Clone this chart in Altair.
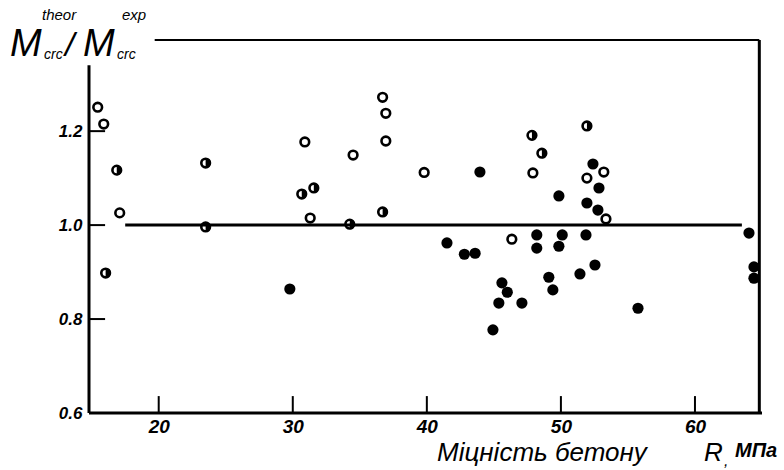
import altair as alt
import pandas as pd

# ---- data ----
open_x = [15.45, 15.9, 17.09, 30.9, 34.5, 36.7, 36.94, 36.94, 31.3, 39.8, 46.34, 47.91, 51.94, 53.2, 53.36]
open_y = [1.251, 1.215, 1.026, 1.177, 1.149, 1.272, 1.238, 1.179, 1.015, 1.112, 0.970, 1.111, 1.100, 1.113, 1.013]

half_x = [16.87, 16.04, 23.5, 23.5, 30.67, 31.57, 34.25, 36.7, 47.84, 48.58, 51.94]
half_y = [1.117, 0.898, 1.132, 0.996, 1.066, 1.079, 1.002, 1.028, 1.191, 1.153, 1.211]

filled_x = [29.78, 41.5, 42.8, 43.6, 43.96, 45.6, 46.0, 45.37, 47.09, 44.93, 52.39, 52.84, 49.85, 51.94,
            52.76, 48.2, 48.2, 50.1, 49.85, 51.87, 52.54, 51.42, 49.1, 49.4, 55.75, 64.03, 64.4, 64.4]
filled_y = [0.864, 0.962, 0.938, 0.940, 1.113, 0.877, 0.857, 0.834, 0.834, 0.777, 1.130, 1.079, 1.062, 1.047,
            1.032, 0.979, 0.951, 0.979, 0.955, 0.979, 0.915, 0.896, 0.889, 0.862, 0.823, 0.983, 0.911, 0.887]

x_ticks = [20, 30, 40, 50, 60]
y_ticks = [0.6, 0.8, 1.0, 1.2]
x_domain = [14.8, 65.0]
y_domain = [0.6, 1.394]
ref_value = 1.0
ref_from, ref_to = 17.5, 63.5

# ---- frames ----
open_df = pd.DataFrame({"x": open_x, "y": open_y})
half_df = pd.DataFrame({"x": half_x, "y": half_y})
filled_df = pd.DataFrame({"x": filled_x, "y": filled_y})

xs = alt.Scale(domain=x_domain, nice=False, zero=False)
ys = alt.Scale(domain=y_domain, nice=False, zero=False)

frame_df = pd.DataFrame({
    "x":  [x_domain[0], x_domain[0], 19.7, 64.8, ref_from],
    "x2": [x_domain[1], x_domain[0], 64.8, 64.8, ref_to],
    "y":  [0.6, 0.6, y_domain[1], 0.6, ref_value],
    "y2": [0.6, 1.34, y_domain[1], y_domain[1], ref_value],
    "w":  [3, 3, 2, 3, 3],
})
xtick_df = pd.DataFrame({"x": x_ticks, "y": [0.6] * len(x_ticks), "y2": [0.636] * len(x_ticks)})
ytick_df = pd.DataFrame({"y": y_ticks[1:], "x": [x_domain[0]] * 3, "x2": [16.0] * 3})

FONT = "Liberation Sans"

x_axis = alt.Axis(values=x_ticks, domain=False, ticks=False, grid=False, title=None,
                  labelFont=FONT, labelFontStyle="italic", labelFontWeight="bold",
                  labelFontSize=19, labelColor="black", labelPadding=4, labelFlush=False)
y_axis = alt.Axis(values=y_ticks, domain=False, ticks=False, grid=False, title=None, format=".1f",
                  labelFont=FONT, labelFontStyle="italic", labelFontWeight="bold",
                  labelFontSize=17, labelColor="black", labelPadding=7, labelFlush=False)

frame = alt.Chart(frame_df).mark_rule(color="black").encode(
    x=alt.X("x:Q", scale=xs, axis=x_axis),
    x2="x2:Q",
    y=alt.Y("y:Q", scale=ys, axis=y_axis),
    y2="y2:Q",
    strokeWidth=alt.StrokeWidth("w:Q", scale=None, legend=None),
)

xticks = alt.Chart(xtick_df).mark_rule(color="black", strokeWidth=2).encode(
    x=alt.X("x:Q", scale=xs), y=alt.Y("y:Q", scale=ys), y2="y2:Q")
yticks = alt.Chart(ytick_df).mark_rule(color="black", strokeWidth=2).encode(
    y=alt.Y("y:Q", scale=ys), x=alt.X("x:Q", scale=xs), x2="x2:Q")

open_pts = alt.Chart(open_df).mark_point(shape="circle", filled=False, color="black",
                                         strokeWidth=2.6, size=75, opacity=1).encode(
    x=alt.X("x:Q", scale=xs), y=alt.Y("y:Q", scale=ys))
half_ring = alt.Chart(half_df).mark_point(shape="circle", filled=False, color="black",
                                          strokeWidth=2.6, size=75, opacity=1).encode(
    x=alt.X("x:Q", scale=xs), y=alt.Y("y:Q", scale=ys))
half_fill = alt.Chart(half_df).mark_point(shape="M0,-1A1,1,0,0,1,0,1Z", filled=True, color="black",
                                          size=100, opacity=1).encode(
    x=alt.X("x:Q", scale=xs), y=alt.Y("y:Q", scale=ys))
filled_pts = alt.Chart(filled_df).mark_point(shape="circle", filled=True, color="black",
                                             size=125, opacity=1).encode(
    x=alt.X("x:Q", scale=xs), y=alt.Y("y:Q", scale=ys))

# ---- texts (pixel positions relative to plot origin) ----
def txt(s, x, y, size, style="italic", weight="normal", font=FONT):
    return alt.Chart(pd.DataFrame({"t": [s]})).mark_text(
        align="left", baseline="alphabetic", font=font, fontSize=size,
        fontStyle=style, fontWeight=weight, color="black").encode(
        text="t:N", x=alt.value(x), y=alt.value(y))

OX, OY = 89, 40
texts = [
    txt("M", 10 - OX, 56 - OY, 38),
    txt("theor", 42 - OX, 20 - OY, 15),
    txt("crc", 44 - OX, 59 - OY, 14),
    txt("/", 65 - OX, 56 - OY, 34),
    txt("M", 83 - OX, 56 - OY, 38),
    txt("exp", 122 - OX, 20 - OY, 15),
    txt("crc", 117 - OX, 59 - OY, 14),
    txt("Міцність бетону", 437 - OX, 461 - OY, 26),
    txt("R", 704 - OX, 461 - OY, 26),
    txt(",", 724 - OX, 466 - OY, 16),
    txt("МПа", 735 - OX, 457 - OY, 20, weight="bold"),
]

chart = alt.layer(frame, xticks, yticks, open_pts, half_ring, half_fill, filled_pts, *texts).properties(
    width=673, height=373,
    autosize=alt.AutoSizeParams(type="none"),
    padding={"left": OX, "top": OY, "right": 784 - OX - 673, "bottom": 470 - OY - 373},
    background="white",
).configure_view(stroke=None)

chart.save("out.html", embed_options={"renderer": "svg", "actions": False})
